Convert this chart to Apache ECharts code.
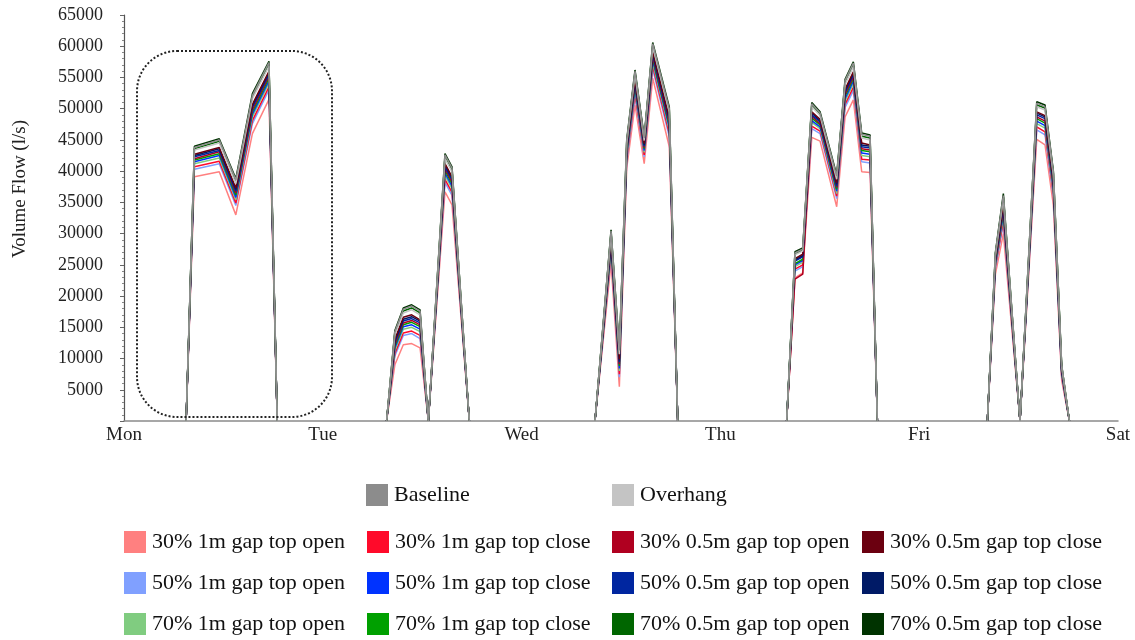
<!DOCTYPE html>
<html>
<head>
<meta charset="utf-8">
<title>Volume Flow</title>
<script src="https://cdn.jsdelivr.net/npm/echarts@6/dist/echarts.min.js"></script>
<style>
  html, body { margin: 0; padding: 0; background: #ffffff; }
  #chart { width: 1135px; height: 640px; }
</style>
</head>
<body>
<div id="chart"></div>
<script>
// Weekday tick labels (one every 24 h)
const dayNames = ['Mon', 'Tue', 'Wed', 'Thu', 'Fri', 'Sat'];

// Sample times in hours from Monday 00:00; a null value breaks the line between days
const hours = [
  7.5, 8.5, 11.5, 13.5, 15.5, 17.5, 18.5, 19,
  31.7, 32.7, 33.72, 34.73, 35.74, 36.74, 38.75, 39.6, 41.69, 42,
  56.86, 58.8, 59.8, 60.69, 61.69, 62.8, 63.83, 65.83, 66.85, 67,
  80.0, 81.0, 81.94, 83.03, 84.03, 86.04, 87.05, 88.05, 89.06, 90.07, 90.95, 91,
  104.23, 105.2, 106.16, 108.17, 110.19, 111.19, 112.2, 113.2, 114.13
];

// Volume flow (l/s) per case
const baseline = [
  0, 43800, 45000, 38600, 52100, 57400, 0, null,
  0, 14300, 17900, 18400, 17600, 0, 42600, 40500, 0, null,
  0, 30400, 11300, 44800, 56000, 45300, 60400, 50000, 0, null,
  0, 26900, 27500, 50800, 49300, 39200, 54500, 57300, 45900, 45600, 0, null,
  0, 26900, 36100, 0, 50900, 50300, 39800, 8900, 0
];
const overhang = [
  0, 43400, 44500, 38000, 51600, 56800, 0, null,
  0, 13800, 17300, 17800, 17000, 0, 42000, 39900, 0, null,
  0, 29900, 10700, 44400, 55500, 44900, 59900, 49500, 0, null,
  0, 26600, 27200, 50300, 48900, 38700, 53900, 56700, 45300, 45000, 0, null,
  0, 26500, 35600, 0, 50300, 49800, 39300, 8700, 0
];
const p30_1m_open = [
  0, 39100, 39900, 33000, 46000, 51500, 0, null,
  0, 9000, 12200, 12400, 11700, 0, 36700, 34600, 0, null,
  0, 25300, 5500, 40500, 50600, 41200, 54900, 43900, 0, null,
  0, 22900, 23700, 45400, 44800, 34300, 48700, 51400, 39900, 39800, 0, null,
  0, 23500, 30000, 0, 45100, 44200, 34500, 6500, 0
];
const p30_1m_close = [
  0, 40700, 41600, 34900, 48100, 53500, 0, null,
  0, 10800, 14100, 14400, 13700, 0, 38700, 36600, 0, null,
  0, 27000, 7500, 42000, 52400, 42600, 56800, 46000, 0, null,
  0, 24300, 25000, 47200, 46400, 36000, 50700, 53400, 41900, 41800, 0, null,
  0, 24700, 32100, 0, 47100, 46300, 36300, 7300, 0
];
const p30_05m_open = [
  0, 42000, 43100, 36500, 49800, 55200, 0, null,
  0, 12300, 15700, 16100, 15400, 0, 40400, 38300, 0, null,
  0, 28500, 9100, 43200, 54000, 43800, 58300, 47700, 0, null,
  0, 22700, 23500, 48800, 47600, 37400, 52300, 55100, 43600, 43400, 0, null,
  0, 25600, 33800, 0, 48700, 48000, 37800, 8000, 0
];
const p30_05m_close = [
  0, 42700, 43800, 37300, 50700, 56000, 0, null,
  0, 13100, 16600, 17000, 16200, 0, 41200, 39100, 0, null,
  0, 29200, 9900, 43800, 54700, 44400, 59100, 48600, 0, null,
  0, 26000, 26700, 49500, 48300, 38100, 53100, 55900, 44500, 44200, 0, null,
  0, 26100, 34700, 0, 49500, 48900, 38600, 8400, 0
];
const p50_1m_open = [
  0, 40300, 41200, 34500, 47600, 53000, 0, null,
  0, 10400, 13700, 14000, 13200, 0, 38200, 36100, 0, null,
  0, 26600, 7000, 41600, 52000, 42300, 56300, 45500, 0, null,
  0, 24000, 24700, 46800, 46000, 35600, 50200, 52900, 41500, 41300, 0, null,
  0, 24400, 31600, 0, 46600, 45800, 35900, 7100, 0
];
const p50_1m_close = [
  0, 41500, 42500, 35800, 49100, 54500, 0, null,
  0, 11700, 15100, 15400, 14700, 0, 39700, 37600, 0, null,
  0, 27900, 8400, 42700, 53300, 43300, 57700, 47000, 0, null,
  0, 25000, 25700, 48100, 47100, 36800, 51600, 54400, 42900, 42700, 0, null,
  0, 25200, 33100, 0, 48000, 47300, 37200, 7700, 0
];
const p50_05m_open = [
  0, 42300, 43300, 36800, 50200, 55500, 0, null,
  0, 12600, 16000, 16400, 15700, 0, 40700, 38600, 0, null,
  0, 28700, 9400, 43400, 54200, 44000, 58600, 48100, 0, null,
  0, 25600, 26300, 49000, 47900, 37600, 52600, 55400, 43900, 43700, 0, null,
  0, 25800, 34200, 0, 49000, 48400, 38100, 8100, 0
];
const p50_05m_close = [
  0, 42500, 43600, 37100, 50500, 55800, 0, null,
  0, 12900, 16300, 16700, 16000, 0, 41000, 38900, 0, null,
  0, 29000, 9700, 43700, 54500, 44200, 58900, 48400, 0, null,
  0, 25800, 26500, 49300, 48100, 37900, 52900, 55700, 44200, 44000, 0, null,
  0, 26000, 34500, 0, 49300, 48700, 38400, 8300, 0
];
const p70_1m_open = [
  0, 41200, 42100, 35400, 48700, 54100, 0, null,
  0, 11300, 14700, 15000, 14300, 0, 39300, 37200, 0, null,
  0, 27500, 8000, 42400, 53000, 43000, 57300, 46600, 0, null,
  0, 24700, 25400, 47800, 46800, 36400, 51200, 54000, 42500, 42300, 0, null,
  0, 25000, 32700, 0, 47600, 46900, 36800, 7600, 0
];
const p70_1m_close = [
  0, 41800, 42800, 36200, 49500, 54900, 0, null,
  0, 12000, 15400, 15800, 15100, 0, 40100, 38000, 0, null,
  0, 28200, 8800, 43000, 53700, 43600, 58000, 47400, 0, null,
  0, 25200, 25900, 48500, 47400, 37100, 52000, 54800, 43300, 43100, 0, null,
  0, 25400, 33500, 0, 48400, 47700, 37500, 7900, 0
];
const p70_05m_open = [
  0, 43600, 44800, 38300, 51900, 57100, 0, null,
  0, 14100, 17600, 18100, 17300, 0, 42300, 40200, 0, null,
  0, 30200, 11000, 44600, 55800, 45200, 60100, 49800, 0, null,
  0, 26800, 27400, 50600, 49100, 39000, 54200, 57000, 45600, 45300, 0, null,
  0, 26700, 35900, 0, 50600, 50100, 39600, 8800, 0
];
const p70_05m_close = [
  0, 44000, 45200, 38800, 52400, 57600, 0, null,
  0, 14500, 18100, 18600, 17800, 0, 42800, 40700, 0, null,
  0, 30600, 11500, 45000, 56200, 45500, 60600, 50300, 0, null,
  0, 27100, 27700, 51000, 49500, 39400, 54700, 57500, 46100, 45800, 0, null,
  0, 27000, 36400, 0, 51100, 50600, 40000, 9000, 0
];

// Draw order: coloured cases first, the two grey references on top
const cases = [
  { name: '30% 1m gap top open',    values: p30_1m_open,    color: '#ff8080' },
  { name: '50% 1m gap top open',    values: p50_1m_open,    color: '#80a0ff' },
  { name: '30% 1m gap top close',   values: p30_1m_close,   color: '#ff0a2a' },
  { name: '70% 1m gap top open',    values: p70_1m_open,    color: '#80cc80' },
  { name: '50% 1m gap top close',   values: p50_1m_close,   color: '#0033ff' },
  { name: '70% 1m gap top close',   values: p70_1m_close,   color: '#00a000' },
  { name: '30% 0.5m gap top open',  values: p30_05m_open,   color: '#b00020' },
  { name: '50% 0.5m gap top open',  values: p50_05m_open,   color: '#0026a0' },
  { name: '50% 0.5m gap top close', values: p50_05m_close,  color: '#001a66' },
  { name: '30% 0.5m gap top close', values: p30_05m_close,  color: '#6b0010' },
  { name: '70% 0.5m gap top open',  values: p70_05m_open,   color: '#006600' },
  { name: '70% 0.5m gap top close', values: p70_05m_close,  color: '#003300' },
  { name: 'Overhang',               values: overhang,       color: '#c4c4c4' },
  { name: 'Baseline',               values: baseline,       color: '#8c8c8c' }
];

const legendColumns = [
  ['30% 1m gap top open', '50% 1m gap top open', '70% 1m gap top open'],
  ['30% 1m gap top close', '50% 1m gap top close', '70% 1m gap top close'],
  ['30% 0.5m gap top open', '50% 0.5m gap top open', '70% 0.5m gap top open'],
  ['30% 0.5m gap top close', '50% 0.5m gap top close', '70% 0.5m gap top close']
];

const FONT = '"Liberation Serif", "Times New Roman", serif';

const legendBase = {
  icon: 'rect',
  itemWidth: 22,
  itemHeight: 22,
  selectedMode: false,
  padding: 0,
  textStyle: { fontFamily: FONT, fontSize: 22, color: '#111', padding: [0, 0, 0, 1] }
};

const legends = [
  Object.assign({}, legendBase, { data: ['Baseline'], left: 366, top: 484 }),
  Object.assign({}, legendBase, { data: ['Overhang'], left: 612, top: 484 })
];
const columnLefts = [124, 367, 612, 862];
legendColumns.forEach((col, i) => {
  legends.push(Object.assign({}, legendBase, {
    data: col, orient: 'vertical', left: columnLefts[i], top: 531, itemGap: 19
  }));
});

const chart = echarts.init(document.getElementById('chart'), null, { renderer: 'canvas' });

chart.setOption({
  animation: false,
  backgroundColor: '#ffffff',
  grid: { left: 124, right: 17, top: 15, bottom: 219, containLabel: false },
  legend: legends,
  xAxis: {
    type: 'value',
    min: 0,
    max: 120,
    interval: 24,
    axisLine: { show: true, lineStyle: { color: '#8a8a8a', width: 1.5 } },
    axisTick: { show: false },
    splitLine: { show: false },
    axisLabel: {
      formatter: v => dayNames[Math.round(v / 24)],
      fontFamily: FONT,
      fontSize: 19,
      color: '#222',
      margin: 5
    }
  },
  yAxis: {
    type: 'value',
    min: 0,
    max: 65000,
    interval: 5000,
    axisLine: { show: true, lineStyle: { color: '#555', width: 1.2 } },
    axisTick: { show: true, length: 4, lineStyle: { color: '#666' } },
    minorTick: { show: true, splitNumber: 5, length: 2, lineStyle: { color: '#888' } },
    splitLine: { show: false },
    axisLabel: {
      formatter: v => (v === 0 ? '' : String(v)),
      fontFamily: FONT,
      fontSize: 18,
      color: '#222',
      margin: 21
    }
  },
  graphic: [
    {
      type: 'text',
      x: 20,
      y: 189,
      rotation: Math.PI / 2,
      style: {
        text: 'Volume Flow (l/s)',
        fontFamily: FONT,
        fontSize: 19,
        fill: '#222',
        align: 'center',
        verticalAlign: 'middle'
      }
    },
    {
      // dotted outline around the Monday profile
      type: 'rect',
      shape: { x: 137, y: 51, width: 195, height: 366, r: 40 },
      style: { fill: 'none', stroke: '#222', lineWidth: 2, lineDash: [2, 2] },
      z: 50
    }
  ],
  series: cases.map(c => ({
    name: c.name,
    type: 'line',
    showSymbol: false,
    symbol: 'none',
    connectNulls: false,
    color: c.color,
    itemStyle: { color: c.color },
    lineStyle: { color: c.color, width: 1.5 },
    data: hours.map((h, i) => [h, c.values[i] === null ? '-' : c.values[i]])
  }))
});
</script>
</body>
</html>
